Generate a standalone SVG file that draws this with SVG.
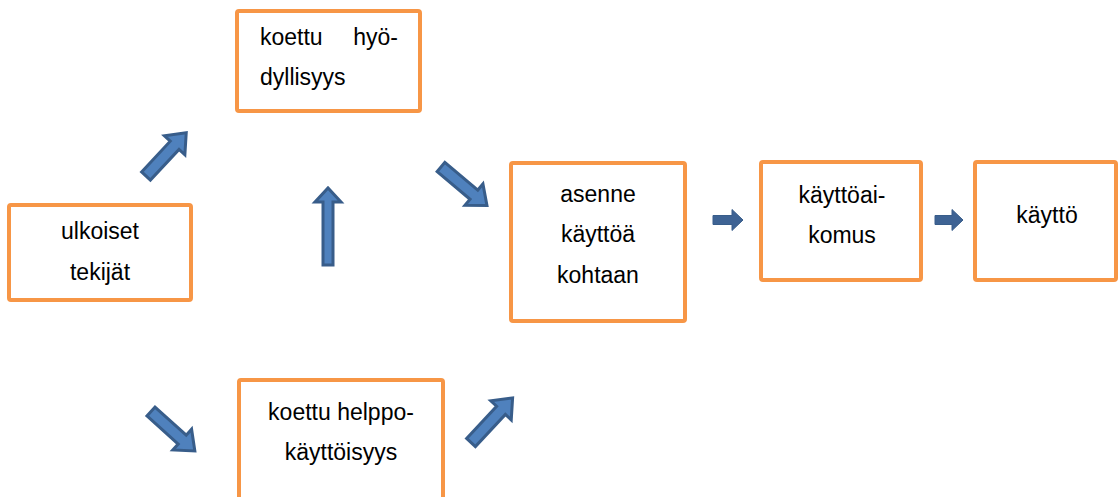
<svg xmlns="http://www.w3.org/2000/svg" width="1119" height="497" viewBox="0 0 1119 497">
<style>
.box{fill:#fff;stroke:#F79646;stroke-width:4}
.t{font-family:"Liberation Sans",Arial,sans-serif;font-size:23px;fill:#000}
.c{text-anchor:middle}
.arr{fill:#4F81BD;stroke:#385D8A;stroke-width:3;stroke-linejoin:miter}
.sarr{fill:#3E6394;stroke:#385D8A;stroke-width:1}
</style>
<rect width="1119" height="497" fill="#fff"/>
<g id="connectors">
<polygon class="arr" transform="translate(146,176) rotate(-47)" points="0,-6 42,-6 42,-14 59,0 42,14 42,6 0,6"/>
<polygon class="arr" transform="translate(328,265) rotate(-90)" points="0,-5 63,-5 63,-13 77,0 63,13 63,5 0,5"/>
<polygon class="arr" transform="translate(441,167) rotate(40)" points="0,-6 43,-6 43,-14 60,0 43,14 43,6 0,6"/>
<polygon class="sarr" transform="translate(713,220) rotate(0)" points="0,-4.5 19,-4.5 19,-10.5 30,0 19,10.5 19,4.5 0,4.5"/>
<polygon class="sarr" transform="translate(935,220) rotate(0)" points="0,-4.5 17,-4.5 17,-10.5 28,0 17,10.5 17,4.5 0,4.5"/>
<polygon class="arr" transform="translate(151,411.5) rotate(42)" points="0,-6 42,-6 42,-14 59,0 42,14 42,6 0,6"/>
<polygon class="arr" transform="translate(471,442.5) rotate(-47)" points="0,-6 44,-6 44,-14 61,0 44,14 44,6 0,6"/>
</g>
<g id="n-hyodyllisyys">
<rect class="box" x="237" y="11" width="183" height="100" rx="2"/>
<text class="t" y="45"><tspan x="260">koettu</tspan><tspan x="398" text-anchor="end">hyö-</tspan></text>
<text class="t" x="260" y="85">dyllisyys</text>
</g>
<g id="n-ulkoiset">
<rect class="box" x="9" y="205" width="182" height="95" rx="2"/>
<text class="t c" x="100" y="239">ulkoiset</text>
<text class="t c" x="100" y="280">tekijät</text>
</g>
<g id="n-asenne">
<rect class="box" x="511" y="163" width="174" height="158" rx="2"/>
<text class="t c" x="598" y="202">asenne</text>
<text class="t c" x="598" y="242">käyttöä</text>
<text class="t c" x="598" y="283">kohtaan</text>
</g>
<g id="n-aikomus">
<rect class="box" x="761" y="162" width="160" height="118" rx="2"/>
<text class="t c" x="842" y="203">käyttöai-</text>
<text class="t c" x="842" y="243">komus</text>
</g>
<g id="n-kaytto">
<rect class="box" x="975" y="162" width="141" height="118" rx="2"/>
<text class="t c" x="1047" y="223">käyttö</text>
</g>
<g id="n-helppokayttoisyys">
<rect class="box" x="239" y="380" width="204" height="130" rx="2"/>
<text class="t c" x="341" y="420">koettu helppo-</text>
<text class="t c" x="341" y="460">käyttöisyys</text>
</g>
</svg>
